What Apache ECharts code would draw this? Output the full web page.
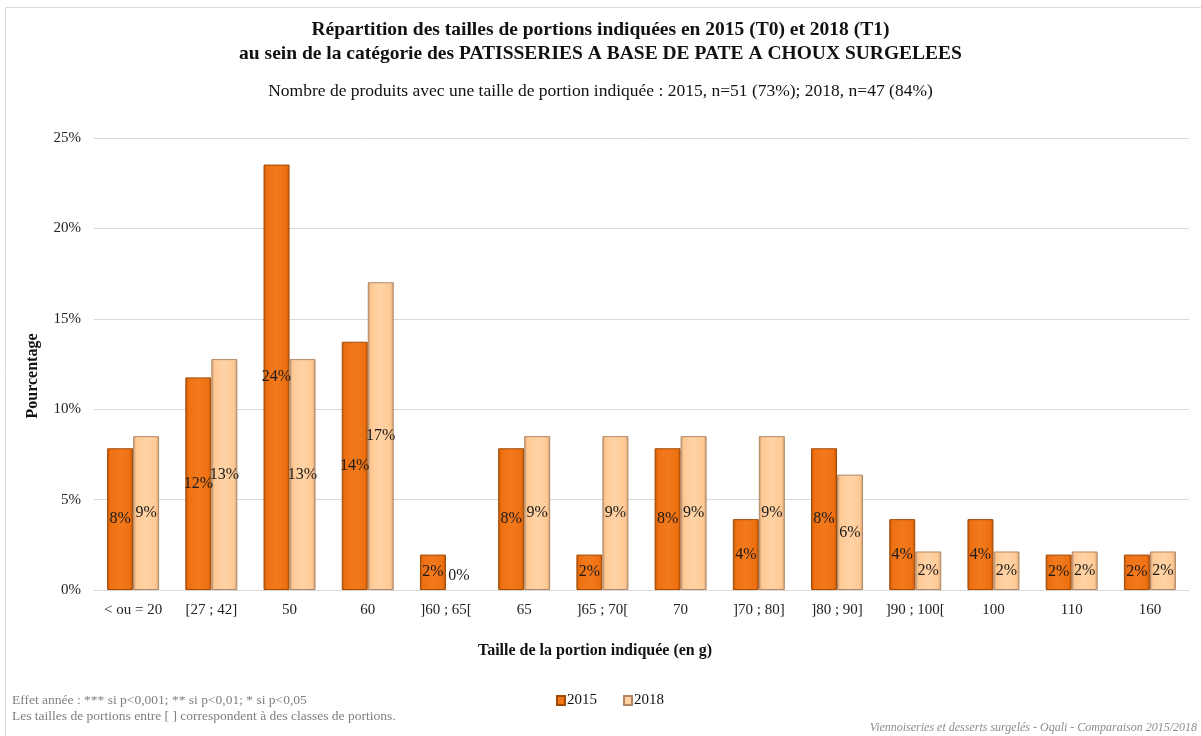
<!DOCTYPE html>
<html>
<head>
<meta charset="utf-8">
<script src="https://cdn.jsdelivr.net/npm/echarts@6/dist/echarts.min.js"></script>
<style>
html,body{margin:0;padding:0;background:#fff;}
#chart{width:1201px;height:736px;}
</style>
</head>
<body>
<div id="chart"></div>
<script>
const categories = ['< ou = 20','[27 ; 42]','50','60',']60 ; 65[','65',']65 ; 70[','70',']70 ; 80]',']80 ; 90]',']90 ; 100[','100','110','160'];
const values2015 = [7.84, 11.76, 23.53, 13.73, 1.96, 7.84, 1.96, 7.84, 3.92, 7.84, 3.92, 3.92, 1.96, 1.96];
const values2018 = [8.51, 12.77, 12.77, 17.02, 0, 8.51, 8.51, 8.51, 8.51, 6.38, 2.13, 2.13, 2.13, 2.13];
const seriesNames = ['2015', '2018'];
const yTicks = [0, 5, 10, 15, 20, 25];

const FONT = '"Liberation Serif", "DejaVu Serif", serif';

function grad(edge, mid, light) {
  return new echarts.graphic.LinearGradient(0, 0, 1, 0, [
    {offset: 0, color: edge},
    {offset: 0.12, color: mid},
    {offset: 0.5, color: light},
    {offset: 0.88, color: mid},
    {offset: 1, color: edge}
  ]);
}
const style2015 = {color: grad('#B85508', '#EE7011', '#F27A1C'), borderColor: '#A04A06', borderWidth: 1};
const style2018 = {color: grad('#C89A70', '#FFC994', '#FFD3A6'), borderColor: '#B08868', borderWidth: 1};

function makeData(vals) {
  return vals.map(v => v === 0
    ? {value: v, itemStyle: {borderWidth: 0}, label: {position: 'insideBottom', offset: [0, -1]}}
    : {value: v});
}

const labelCfg = {
  show: true,
  position: 'inside',
  formatter: p => Math.round(p.value) + '%',
  color: '#1a1a1a',
  fontFamily: FONT,
  fontSize: 16
};

const chart = echarts.init(document.getElementById('chart'));
chart.setOption({
  animation: false,
  backgroundColor: '#fff',
  title: [
    {
      text: 'Répartition des tailles de portions indiquées en 2015 (T0) et 2018 (T1)\nau sein de la catégorie des PATISSERIES A BASE DE PATE A CHOUX SURGELEES',
      left: 'center', top: 13,
      textStyle: {fontFamily: FONT, fontWeight: 'bold', fontSize: 19.5, color: '#111', lineHeight: 24}
    },
    {
      text: 'Nombre de produits avec une taille de portion indiquée : 2015, n=51 (73%); 2018, n=47 (84%)',
      left: 'center', top: 77,
      textStyle: {fontFamily: FONT, fontWeight: 'normal', fontSize: 17.5, color: '#111'}
    }
  ],
  legend: {
    data: seriesNames,
    left: 551, top: 688,
    icon: 'rect',
    itemWidth: 8, itemHeight: 9, itemGap: 26,
    textStyle: {fontFamily: FONT, fontSize: 15, color: '#111', padding: [0, 0, 0, -3]}
  },
  grid: {left: 94, right: 12, top: 138, bottom: 146, containLabel: false},
  xAxis: {
    type: 'category',
    data: categories,
    axisLine: {show: true, lineStyle: {color: '#d9d9d9', width: 1}},
    axisTick: {show: false},
    axisLabel: {fontFamily: FONT, fontSize: 15, color: '#222', margin: 13, interval: 0}
  },
  yAxis: {
    type: 'value',
    min: yTicks[0], max: yTicks[yTicks.length - 1], interval: 5,
    axisLine: {show: false},
    axisTick: {show: false},
    splitLine: {lineStyle: {color: '#d9d9d9', width: 1}},
    axisLabel: {fontFamily: FONT, fontSize: 15, color: '#222', margin: 13, formatter: v => v + '%'}
  },
  series: [
    {
      name: seriesNames[0], type: 'bar', data: makeData(values2015),
      barWidth: 26, barGap: '0%',
      itemStyle: style2015, label: labelCfg
    },
    {
      name: seriesNames[1], type: 'bar', data: makeData(values2018),
      barWidth: 26, barGap: '0%',
      itemStyle: style2018, label: labelCfg
    }
  ],
  graphic: [
    {type: 'polyline', shape: {points: [[5.5, 740], [5.5, 7.5], [1205, 7.5]]}, style: {stroke: '#d9d9d9', lineWidth: 1, fill: null}, silent: true},
    {type: 'text', x: 595, y: 651, style: {text: 'Taille de la portion indiquée (en g)', fontFamily: FONT, fontWeight: 'bold', fontSize: 16, fill: '#111', align: 'center', verticalAlign: 'middle'}},
    {type: 'text', x: 33, y: 376, rotation: Math.PI / 2, style: {text: 'Pourcentage', fontFamily: FONT, fontWeight: 'bold', fontSize: 16, fill: '#111', align: 'center', verticalAlign: 'middle'}},
    {type: 'text', left: 12, top: 693, style: {text: 'Effet année : *** si p<0,001; ** si p<0,01; * si p<0,05', fontFamily: FONT, fontSize: 13.5, fill: '#7f7f7f'}},
    {type: 'text', left: 12, top: 709, style: {text: 'Les tailles de portions entre [ ] correspondent à des classes de portions.', fontFamily: FONT, fontSize: 13.5, fill: '#7f7f7f'}},
    {type: 'text', right: 4, top: 722, style: {text: 'Viennoiseries et desserts surgelés - Oqali - Comparaison 2015/2018', fontFamily: FONT, fontStyle: 'italic', fontSize: 12, fill: '#8c8c8c'}}
  ]
});
</script>
</body>
</html>
